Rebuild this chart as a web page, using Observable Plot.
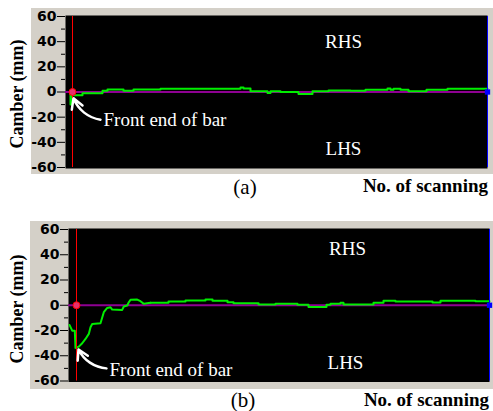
<!DOCTYPE html>
<html><head><meta charset="utf-8">
<script src="https://cdn.jsdelivr.net/npm/d3@7"></script>
<script src="https://cdn.jsdelivr.net/npm/@observablehq/plot@0.6"></script>
<style>
body{margin:0;background:#fff;width:493px;height:411px;position:relative;overflow:hidden;font-family:"Liberation Serif","Times New Roman",serif}
.panel{position:absolute;background:#d4d0c8}
.lab{position:absolute;white-space:nowrap;transform:translate(-50%,-50%);color:#000}
.ylab{position:absolute;white-space:nowrap;transform:translate(-50%,-50%) rotate(-90deg);font-weight:bold;font-size:18px}
.xlab{position:absolute;white-space:nowrap;transform:translate(-100%,-50%);font-weight:bold;font-size:19px}
</style></head><body>
<div id="pa" class="panel" style="left:31px;top:8px;width:462px;height:166px"></div>
<div id="pb" class="panel" style="left:30px;top:221px;width:463px;height:168px"></div>
<div class="ylab" style="left:17px;top:94px">Camber (mm)</div>
<div class="ylab" style="left:17px;top:309px">Camber (mm)</div>
<div class="lab" style="left:245px;top:187px;font-size:21px">(a)</div>
<div class="lab" style="left:243px;top:400px;font-size:21px">(b)</div>
<div class="xlab" style="left:488px;top:186px">No. of scanning</div>
<div class="xlab" style="left:489px;top:400px">No. of scanning</div>
<script>
// Y axis ticks (mm)
const majorTicks = [-60, -40, -20, 0, 20, 40, 60];
const minorTicks = [-50, -30, -10, 10, 30, 50];
const panelLabels = ["RHS", "LHS"];
const noteText = "Front end of bar";
const serif = '"Liberation Serif", "Times New Roman", serif';

// Panel (a): camber vs. scan number (step trace)
const aScanX = [5, 5, 6, 17, 37, 42, 58, 68, 95, 175, 178, 185, 202, 205, 215, 233, 247, 263, 285, 300, 322, 325, 328, 335, 343, 361, 382, 422];
const aCamber = [-1, -10, -2.5, -1, 1, 2, 1, 2, 2.6, 3.5, 2.8, 0.6, -0.8, 0.6, 0, -1.5, 0.6, 1.2, 1, 1.7, 2.8, 1.7, 2.5, 1.7, 0.6, 1.7, 2.5, 2.5];
const aFrontX = 7, aEndX = 422;
const aLabelPos = {x: [278, 278], y: [40, -45]};
const aNote = {x: 38, y: -22, tailX: 35, tailY: -22, headX: 8, headY: -5};

// Panel (b): ramp section then step trace
const bRampX = [1, 3.7, 6.3, 7, 10.3, 13.7, 17, 20.3, 22, 23.7, 32, 35.3, 38.7, 42, 43.7, 53.7, 55.3, 58.7, 60.3, 62, 68.7, 72, 75.3, 82];
const bRampY = [-15.6, -20.1, -20.1, -33.8, -32.8, -30.1, -26.7, -22.7, -17.4, -14.8, -14.3, -5.5, -2.1, -1.6, -3.4, -3.7, -1.0, -0.2, 2.4, 4.3, 4.5, 3.2, 1.1, 1.9];
const bStepX = [82, 100, 117, 137, 144, 159, 165, 190, 207, 229, 240, 258, 262, 272, 275, 305, 315, 327, 364, 372, 407, 421];
const bStepY = [1.9, 2.9, 3.7, 4.5, 3.5, 2.4, 1.6, 0.5, 1.1, 0.3, -1.3, 0.3, 1.1, 1.9, 0.5, 1.9, 3.5, 2.9, 2.2, 3.6, 3.2, 3.2];
const bFrontX = 8, bEndX = 421;
const bLabelPos = {x: [279, 277], y: [45, -45.5]};
const bNote = {x: 41, y: -51, tailX: 38, tailY: -50, headX: 10, headY: -35};

const zip = (xs, ys) => xs.map((x, i) => ({x, y: ys[i]}));

function panel({width, height, ml, mr, mt, mb, xMax, lines, frontX, endX, labelPos, note}) {
  const labels = panelLabels.map((t, i) => ({t, x: labelPos.x[i], y: labelPos.y[i]}));
  return Plot.plot({
    width, height,
    marginLeft: ml, marginRight: mr, marginTop: mt, marginBottom: mb,
    style: {background: "transparent", fontFamily: "DejaVu Sans", fontSize: "14px", fontWeight: "bold", color: "#000", overflow: "visible"},
    x: {domain: [0, xMax], axis: null},
    y: {domain: [-60, 60], axis: null},
    marks: [
      Plot.frame({fill: "black", stroke: "none", insetTop: -1, insetBottom: -1}),
      Plot.axisY({ticks: majorTicks, tickSize: 8, tickPadding: 1, tickFormat: d => String(d), stroke: "#000", fill: "#000", fontSize: 14, fontWeight: "bold"}),
      Plot.axisY({ticks: minorTicks, tickSize: 4, tickFormat: () => "", stroke: "#000"}),
      Plot.ruleY([0], {stroke: "#8e0092", strokeWidth: 2}),
      ...lines.map(l => Plot.line(l.data, {x: "x", y: "y", curve: l.curve, stroke: "#00ee00", strokeWidth: 2})),
      Plot.ruleX([frontX], {stroke: "#ff0000", strokeWidth: 1}),
      Plot.ruleX([endX], {stroke: "#0000ff", strokeWidth: 1}),
      Plot.dot([{x: frontX, y: 0}], {x: "x", y: "y", r: 3.5, fill: "#e8306a", stroke: "#ff0000", strokeWidth: 1}),
      Plot.dot([{x: endX, y: 0}], {x: "x", y: "y", symbol: "square", r: 3, fill: "#0000ff"}),
      Plot.text(labels, {x: "x", y: "y", text: "t", fill: "white", fontFamily: serif, fontSize: 19, fontWeight: "normal"}),
      Plot.arrow([note], {x1: "tailX", y1: "tailY", x2: "headX", y2: "headY", bend: 30, stroke: "white", strokeWidth: 2.5, headLength: 9}),
      Plot.text([note], {x: "x", y: "y", text: () => noteText, textAnchor: "start", fill: "white", fontFamily: serif, fontSize: 19, fontWeight: "normal"})
    ]
  });
}

document.getElementById("pa").appendChild(panel({
  width: 462, height: 166, ml: 34, mr: 6, mt: 8, mb: 7, xMax: 422,
  lines: [{data: zip(aScanX, aCamber), curve: "step-after"}],
  frontX: aFrontX, endX: aEndX, labelPos: aLabelPos, note: aNote
}));
document.getElementById("pb").appendChild(panel({
  width: 463, height: 168, ml: 38, mr: 4, mt: 8, mb: 8.5, xMax: 421,
  lines: [{data: zip(bRampX, bRampY), curve: "linear"}, {data: zip(bStepX, bStepY), curve: "step-after"}],
  frontX: bFrontX, endX: bEndX, labelPos: bLabelPos, note: bNote
}));
</script>
</body></html>
